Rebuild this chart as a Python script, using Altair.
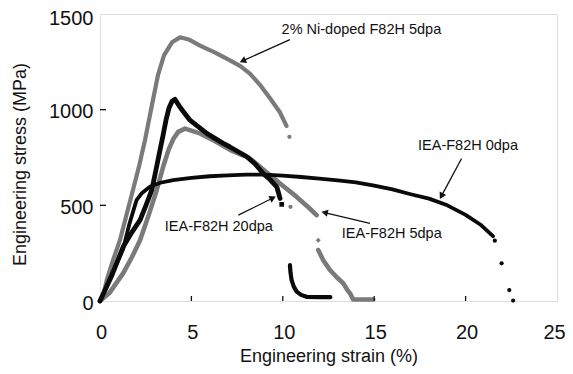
import math
import altair as alt
import pandas as pd

# ---------------- data ----------------
# 2% Ni-doped F82H 5dpa (gray)
ni_x = [0, 0.2, 0.37, 0.7, 1.09, 1.45, 1.8, 2.15, 2.46, 2.84, 3.17, 3.5, 3.94, 4.38,
        4.9, 5.47, 6.3, 7.11, 7.7, 8.2, 8.75, 9.3, 9.85, 10.2]
ni_y = [0, 40, 110, 210, 318, 450, 579, 710, 840, 1023, 1180, 1284, 1352, 1378,
        1365, 1335, 1298, 1258, 1226, 1188, 1130, 1060, 985, 915]
ni_dot_x = [10.36, 10.42]
ni_dot_y = [858, 492]

# IEA-F82H 20dpa (black)
d20_x = [0, 0.66, 1.26, 1.75, 2.19, 2.52, 2.83, 3.06, 3.28, 3.45, 3.61, 3.77, 3.94, 4.1,
         4.4, 4.92, 5.84, 6.74, 7.11, 8.02, 8.5, 8.93, 9.3, 9.67, 9.85]
d20_y = [0, 136, 282, 360, 423, 501, 579, 684, 788, 866, 945, 1007, 1044, 1054,
         1010, 945, 876, 824, 805, 755, 715, 666, 635, 597, 536]
d20_dot_x = [9.94]
d20_dot_y = [505]
d20_tail_x = [10.39, 10.42, 10.48, 10.6, 10.76, 11.0, 11.3, 12.0, 12.6]
d20_tail_y = [188, 150, 110, 75, 49, 32, 22, 20, 20]

# IEA-F82H 5dpa (gray)
d5_x = [0, 0.5, 1.27, 1.75, 2.19, 2.65, 3.1, 3.45, 3.75, 4.0, 4.28, 4.65,
        5.47, 6.3, 7.11, 8.2, 8.9, 9.85, 10.76, 11.4, 11.85]
d5_y = [0, 40, 146, 230, 318, 445, 579, 700, 790, 845, 884, 901,
        876, 835, 790, 745, 690, 614, 544, 490, 449]
d5_dot_x = [11.94]
d5_dot_y = [318]
d5_tail_x = [11.94, 12.2, 12.58, 13.0, 13.31, 13.55, 13.68, 13.85, 14.4, 14.95]
d5_tail_y = [266, 215, 162, 120, 92, 55, 40, 8, 8, 8]

# IEA-F82H 0dpa (black)
d0_x = [0, 0.6, 1.26, 1.6, 1.85, 2.0, 2.3, 2.73, 3.3, 4.0, 5.0, 6.0, 7.0, 8.0, 9.0,
        10.0, 11.0, 12.0, 13.0, 14.0, 15.0, 16.0, 17.0, 18.0, 19.0, 20.0, 20.8, 21.5]
d0_y = [0, 130, 270, 400, 480, 527, 565, 597, 618, 632, 643, 652, 657, 660, 660,
        655, 648, 640, 630, 620, 603, 583, 558, 535, 500, 450, 400, 339]
d0_dot_x = [21.6, 21.97, 22.39, 22.6]
d0_dot_y = [315, 197, 57, 2]

# annotations: label, text position, arrow start, arrow tip
labels = ["2% Ni-doped F82H 5dpa", "IEA-F82H 0dpa", "IEA-F82H 20dpa", "IEA-F82H 5dpa"]
label_x = [14.3, 20.13, 6.5, 15.96]
label_y = [1414, 809, 386, 350]
arrow_x0 = [10.39, 19.78, 7.57, 14.77]
arrow_y0 = [1366, 745, 449, 406]
arrow_x1 = [7.66, 18.6, 9.6, 12.13]
arrow_y1 = [1249, 535, 545, 466]

x_ticks = [0, 5, 10, 15, 20, 25]
y_ticks = [0, 500, 1000, 1500]
inner_x_ticks = [5, 10, 15, 20]
inner_y_ticks = [500, 1000]

# ---------------- chart ----------------
W, H = 457, 287
XMAX, YMAX = 25, 1500
GRAY = "#7a7a7a"
BLACK = "#0a0a0a"
FONT = "Liberation Sans"

xs = alt.Scale(domain=[0, XMAX], nice=False, zero=True)
ys = alt.Scale(domain=[0, YMAX], nice=False, zero=True)


def df(x, y):
    return pd.DataFrame({"x": x, "y": y, "i": list(range(len(x)))})


def line(x, y, color, width):
    return alt.Chart(df(x, y)).mark_line(
        color=color, strokeWidth=width, strokeCap="round", strokeJoin="round"
    ).encode(
        x=alt.X("x:Q", scale=xs, axis=alt.Axis(
            values=x_ticks, format="d", title="Engineering strain (%)", ticks=False,
            domain=False, grid=False, labelFontSize=20, labelPadding=21, labelFont=FONT,
            labelColor="#111", titleFont=FONT, titleFontSize=18,
            titleFontWeight="normal", titleColor="#111", titleY=55,
            titleBaseline="middle", labelFlush=False,
            labelOffset={"condition": {"test": "datum.value == 25", "value": -3},
                         "value": 1})),
        y=alt.Y("y:Q", scale=ys, axis=alt.Axis(
            values=y_ticks, format="d", title="Engineering stress (MPa)", ticks=False,
            domain=False, grid=False, labelFontSize=20, labelPadding=7, labelFont=FONT,
            labelColor="#111", labelFlush=False,
            labelOffset={"condition": {"test": "datum.value == 1500", "value": 4},
                         "value": 2},
            titleFont=FONT, titleFontSize=18, titleFontWeight="normal",
            titleColor="#111", titleX=-80, titleY=150, titleAngle=-90,
            titleAlign="center", titleBaseline="middle")),
        order="i:Q",
    )


def dots(x, y, color, shape, size):
    return alt.Chart(df(x, y)).mark_point(
        color=color, filled=True, shape=shape, size=size, opacity=1
    ).encode(x=alt.X("x:Q", scale=xs), y=alt.Y("y:Q", scale=ys))


layers = [
    line(ni_x, ni_y, GRAY, 4.2),
    dots(ni_dot_x, ni_dot_y, GRAY, "circle", 18),
    line(d5_x, d5_y, GRAY, 4.6),
    line(d5_tail_x, d5_tail_y, GRAY, 4.6),
    dots(d5_dot_x, d5_dot_y, GRAY, "diamond", 25),
    line(d0_x, d0_y, BLACK, 3.8),
    dots(d0_dot_x, d0_dot_y, BLACK, "circle", 18),
    line(d20_x, d20_y, BLACK, 4.8),
    line(d20_tail_x, d20_tail_y, BLACK, 4.2),
    dots(d20_dot_x, d20_dot_y, BLACK, "square", 22),
]

# arrows
px_x = W / XMAX
px_y = H / YMAX
ang, hx, hy = [], [], []
for x0, y0, x1, y1 in zip(arrow_x0, arrow_y0, arrow_x1, arrow_y1):
    dx = (x1 - x0) * px_x
    dy = -(y1 - y0) * px_y  # screen space, y down
    L = math.hypot(dx, dy)
    a = math.degrees(math.atan2(dx, -dy)) % 360
    ang.append(a)
    back = 4.0
    hx.append(x1 - (dx / L) * back / px_x)
    hy.append(y1 + (dy / L) * back / px_y)

arrows = pd.DataFrame({"x0": arrow_x0, "y0": arrow_y0, "x1": arrow_x1, "y1": arrow_y1,
                       "hx": hx, "hy": hy, "ang": ang})
layers.append(alt.Chart(arrows).mark_rule(color="#111", strokeWidth=1.3).encode(
    x=alt.X("x0:Q", scale=xs), y=alt.Y("y0:Q", scale=ys), x2="hx:Q", y2="hy:Q"))
layers.append(alt.Chart(arrows).mark_point(
    shape="triangle", filled=True, color="#111", size=55, opacity=1).encode(
    x=alt.X("hx:Q", scale=xs), y=alt.Y("hy:Q", scale=ys),
    angle=alt.Angle("ang:Q", scale=None)))

texts = pd.DataFrame({"t": labels, "x": label_x, "y": label_y})
layers.append(alt.Chart(texts).mark_text(
    font=FONT, fontSize=14.5, color="#111", align="center", baseline="middle").encode(
    x=alt.X("x:Q", scale=xs), y=alt.Y("y:Q", scale=ys), text="t:N"))

# inward ticks
tx = pd.DataFrame({"v": inner_x_ticks})
layers.append(alt.Chart(tx).mark_rule(color="#111", strokeWidth=1.3).encode(
    x=alt.X("v:Q", scale=xs), y=alt.value(H), y2=alt.value(H - 5)))
ty = pd.DataFrame({"v": inner_y_ticks})
layers.append(alt.Chart(ty).mark_rule(color="#111", strokeWidth=1.3).encode(
    y=alt.Y("v:Q", scale=ys), x=alt.value(0), x2=alt.value(6)))

chart = alt.layer(*layers).properties(
    width=W, height=H, autosize="none",
    padding={"left": 92, "top": 6, "right": 8, "bottom": 65},
).configure_view(stroke="#111", strokeWidth=1.6).configure(background="white")

chart.save("out.html", embed_options={"renderer": "svg", "actions": False})
